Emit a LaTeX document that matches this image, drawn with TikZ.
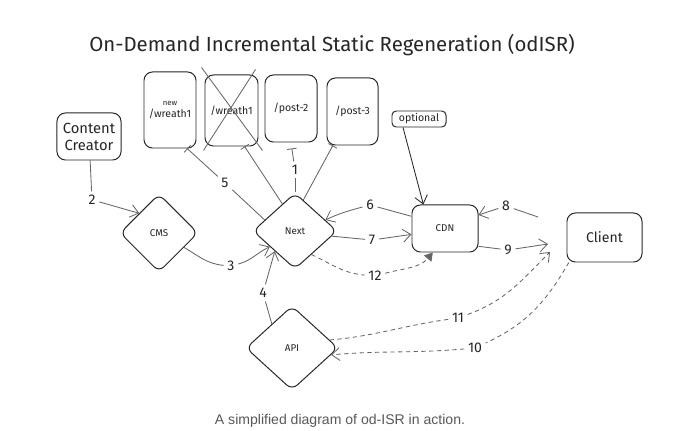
\documentclass[tikz,border=0pt]{standalone}
\usepackage{fontspec}
\setmainfont{Fira Sans}
\newfontfamily\capfont{Liberation Sans}
\usepackage{tikz}
\usetikzlibrary{arrows.meta, shapes.geometric}

\begin{document}
\begin{tikzpicture}[
        x=0.025cm, y=-0.025cm,
        every node/.style={align=center, text=black!85},
        box/.style={draw=black!85, line width=0.7pt, rounded corners=6pt, inner sep=1pt},
        page/.style={box, minimum width=1.3cm, font=\fontsize{7.5}{8.5}\selectfont},
        rhomb/.style={draw=black!85, line width=0.7pt, diamond, rounded corners=5pt, inner sep=0pt, font=\fontsize{7}{8}\selectfont},
        num/.style={inner sep=2.5pt, font=\fontsize{10}{10}\selectfont},
        wire/.style={draw=black!60, line width=0.6pt},
        flow/.style={wire, -{Straight Barb[length=2mm, width=3.2mm]}},
        hit/.style={wire, -{Bar[width=2.4mm]}},
        dashwire/.style={wire, dash pattern=on 3pt off 2.5pt}
    ]

    \path[use as bounding box, fill=white] (0,0) rectangle (680,431);

    % title and caption
    \node (title) at (332,45) {\fontsize{14.5}{14.5}\selectfont On-Demand Incremental Static Regeneration (odISR)};
    \node[text=black!65] (caption) at (340,421) {\capfont\fontsize{10}{10}\selectfont A simplified diagram of od-ISR in action.};

    % pages
    \node[page, minimum height=1.9cm] (newpage) at (170,110) {{\fontsize{5.5}{6}\selectfont new}\\/wreath1};
    \node[page, minimum width=1.325cm, minimum height=1.775cm] (oldpage) at (231.5,110.5) {/wreath1};
    \node[page, minimum height=1.675cm] (post2) at (291,108.5) {/post-2};
    \node[page, minimum width=1.275cm, minimum height=1.675cm] (post3) at (352.5,111.5) {/post-3};
    \draw[wire] ([shift={(-3,-7)}]oldpage.north west) -- ([shift={(4,4)}]oldpage.south east);
    \draw[wire] ([shift={(-3,-5)}]oldpage.north east) -- ([shift={(-1,4)}]oldpage.south west);

    % main flow
    \node[box, minimum width=1.6cm, minimum height=1.175cm, font=\fontsize{10.5}{12}\selectfont] (creator) at (89,136.5) {Content\\Creator};
    \node[rhomb, minimum width=1.95cm, minimum height=1.95cm] (cms) at (159,233) {CMS};
    \node[rhomb, minimum width=2.1cm, minimum height=1.9cm] (next) at (295,231) {Next};
    \node[rhomb, minimum width=2.3cm, minimum height=2.1cm] (api) at (292,348) {API};
    \node[box, minimum width=1.65cm, minimum height=1.175cm, font=\fontsize{7}{8}\selectfont] (cdn) at (445,228.5) {CDN};
    \node[box, rounded corners=3pt, minimum width=1.35cm, minimum height=0.4cm, font=\fontsize{7.5}{8}\selectfont] (optional) at (419,119) {optional};
    \node[box, minimum width=1.875cm, minimum height=1.225cm, font=\fontsize{10}{11}\selectfont] (client) at (604.5,237.5) {Client};

    % step numbers
    \node[num] (l1) at (295,170) {1};
    \node[num] (l2) at (92,200) {2};
    \node[num] (l3) at (231,266) {3};
    \node[num] (l4) at (263,293) {4};
    \node[num] (l5) at (225,183) {5};
    \node[num] (l6) at (370,205) {6};
    \node[num] (l7) at (372,240) {7};
    \node[num] (l8) at (506,206) {8};
    \node[num] (l9) at (508,250) {9};
    \node[num] (l10) at (475,348) {10};
    \node[num] (l11) at (458,318) {11};
    \node[num] (l12) at (375,276) {12};
    \coordinate (c8) at (538,217);
    \coordinate (c9) at (548,244);
    \coordinate (c11) at (550,252);

    % connectors
    \draw[wire] (creator) -- (l2);
    \draw[flow] (l2) to[out=-15,in=165] (cms.135);
    \draw[wire] (cms.-30) to[out=-30,in=175] (l3);
    \draw[flow] (l3) to[out=15,in=-155] (next.212);
    \draw[wire] (api.130) -- (l4);
    \draw[flow] (l4) -- (next.225);

    \draw[wire] (next.160) -- (l5);
    \draw[hit] (l5) -- (newpage.-66);
    \draw[hit] (next.115) -- (oldpage.-70);
    \draw[wire] (next.north) -- (l1);
    \draw[hit, shorten >=1.5mm] (l1) -- (post2.south);
    \draw[hit] (next.75) -- (post3.240);

    \draw[wire] (cdn.160) to[out=165,in=-15] (l6);
    \draw[flow] (l6) to[out=195,in=25] (next.20);
    \draw[wire] (next.-8) -- (l7);
    \draw[flow] (l7) -- (cdn.190);
    \draw[dashwire] (next.-55) to[out=-25,in=175] (l12);
    \draw[dashwire, -{Triangle[length=2mm, width=2.4mm]}] (l12) to[out=15,in=-130] (cdn.243);
    \draw[draw=black!85, line width=0.6pt, -{Straight Barb[length=2mm, width=3.2mm]}] (optional.208) -- (cdn.132);

    \draw[wire] (c8) -- (l8);
    \draw[flow] (l8) -- (cdn.22);
    \draw[wire] (cdn.-28) -- (l9);
    \draw[flow] (l9) -- (c9);

    \draw[dashwire] (api.12) to[out=5,in=188] (l11);
    \draw[dashwire, -{Straight Barb[length=2mm, width=3.2mm]}] (l11) to[out=20,in=-135] (c11);
    \draw[dashwire] (client.215) to[out=-120,in=25] (l10);
    \draw[dashwire, -{Straight Barb[length=2mm, width=3.2mm]}] (l10) to[out=185,in=5] (api.-10);

\end{tikzpicture}
\end{document}
